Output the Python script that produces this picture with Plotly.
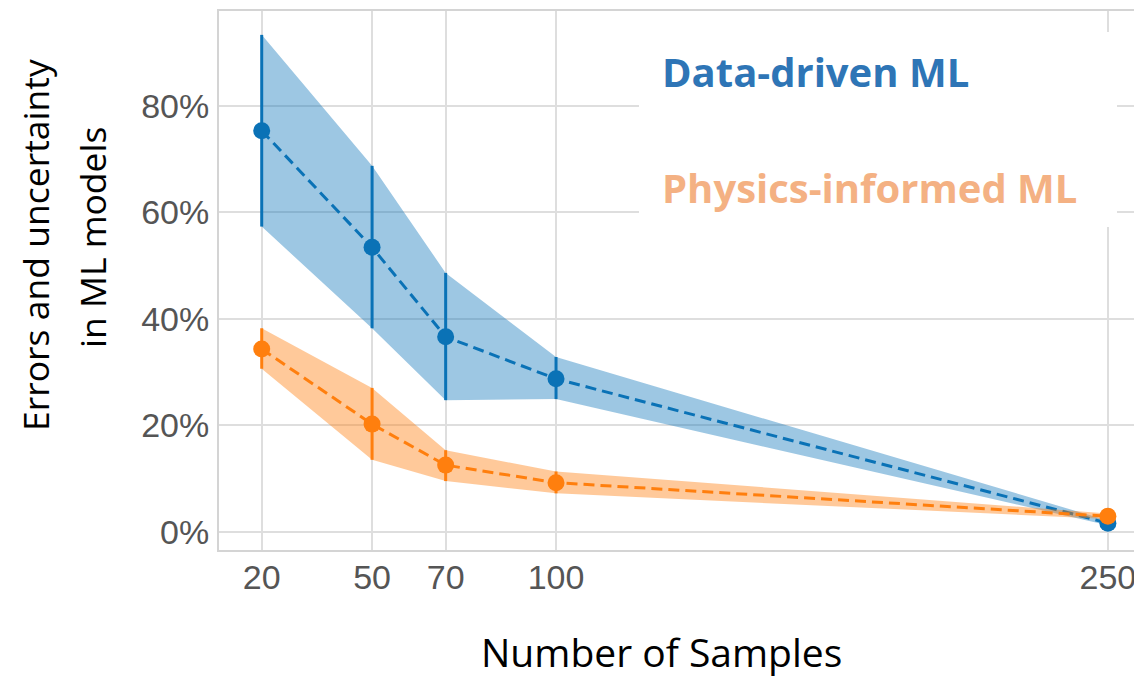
import plotly.graph_objects as go

samples = [20, 50, 70, 100, 250]

dd_mean = [75.3, 53.4, 36.6, 28.7, 1.6]
dd_upper = [93.3, 68.7, 48.6, 32.8, 2.1]
dd_lower = [57.3, 38.2, 24.7, 24.9, 1.2]

pi_mean = [34.3, 20.2, 12.5, 9.2, 2.9]
pi_upper = [38.2, 27.0, 15.3, 11.3, 3.4]
pi_lower = [30.6, 13.5, 9.5, 7.2, 2.4]

y_ticks = [0, 20, 40, 60, 80]

BLUE = "#0a72b6"
ORANGE = "#ff7f0e"
BLUE_FILL = "rgba(10,115,185,0.4)"
ORANGE_FILL = "rgba(255,127,14,0.42)"

fig = go.Figure()


def add_series(mean, upper, lower, color, fill):
    fig.add_trace(go.Scatter(x=samples, y=upper, mode="lines",
                             line=dict(width=0, color=fill), hoverinfo="skip",
                             showlegend=False))
    fig.add_trace(go.Scatter(x=samples, y=lower, mode="lines",
                             line=dict(width=0, color=fill), fill="tonexty",
                             fillcolor=fill, hoverinfo="skip", showlegend=False))
    fig.add_trace(go.Scatter(
        x=samples, y=mean, mode="lines+markers",
        line=dict(color=color, width=3, dash="11px,6px"),
        marker=dict(color=color, size=17),
        error_y=dict(type="data", symmetric=False,
                     array=[u - m for u, m in zip(upper, mean)],
                     arrayminus=[m - l for m, l in zip(mean, lower)],
                     color=color, thickness=3, width=0),
        showlegend=False))


add_series(dd_mean, dd_upper, dd_lower, BLUE, BLUE_FILL)
add_series(pi_mean, pi_upper, pi_lower, ORANGE, ORANGE_FILL)

L, R, T, B = 219, 0, 11, 128
W, H = 1134, 678
pw, ph = W - L - R, H - T - B


def px_x(p):
    return (p - L) / pw


def px_y(p):
    return (H - B - p) / ph


fig.add_shape(type="rect", xref="paper", yref="paper",
              x0=px_x(639), x1=px_x(1117), y0=px_y(227), y1=px_y(32),
              fillcolor="white", line=dict(width=0), layer="above")

annos = [
    dict(text="Data-driven ML", x=px_x(660), y=px_y(72), xanchor="left", yanchor="middle",
         font=dict(family="Open Sans", size=40, color="#2e75b6", weight="bold")),
    dict(text="Physics-informed ML", x=px_x(660), y=px_y(187), xanchor="left", yanchor="middle",
         font=dict(family="Open Sans", size=40, color="#f4b183", weight="bold")),
    dict(text="Number of Samples", x=px_x(661), y=px_y(651), xanchor="center", yanchor="middle",
         font=dict(family="Open Sans", size=39, color="black")),
    dict(text="Errors and uncertainty", x=px_x(35), y=px_y(245), xanchor="center", yanchor="middle",
         textangle=-90, font=dict(family="Open Sans", size=35.5, color="black")),
    dict(text="in ML models", x=px_x(92), y=px_y(238), xanchor="center", yanchor="middle",
         textangle=-90, font=dict(family="Open Sans", size=35.5, color="black")),
]
for a in annos:
    fig.add_annotation(xref="paper", yref="paper", showarrow=False, **a)

fig.update_layout(
    width=W, height=H,
    margin=dict(l=L, r=R, t=T, b=B, pad=0),
    paper_bgcolor="white", plot_bgcolor="white",
    showlegend=False,
    xaxis=dict(range=[8.39, 257.1], tickmode="array", tickvals=samples,
               ticktext=[str(s) for s in samples],
               showgrid=True, gridcolor="#dedede", gridwidth=2,
               showline=True, linecolor="#d4d4d4", linewidth=2, mirror=True,
               zeroline=False, ticks="", ticklen=0,
               ticklabeloverflow="allow", ticklabelstandoff=-4,
               tickfont=dict(family="Liberation Sans", size=34, color="#555555"),
               automargin=False),
    yaxis=dict(range=[-3.44, 97.78], tickmode="array", tickvals=y_ticks,
               ticktext=[f"{v}%" for v in y_ticks],
               showgrid=True, gridcolor="#dedede", gridwidth=2,
               showline=True, linecolor="#d4d4d4", linewidth=2,
               zeroline=False, ticks="outside", ticklen=1, tickcolor="rgba(0,0,0,0)",
               tickfont=dict(family="Liberation Sans", size=34, color="#555555"),
               automargin=False),
)

fig.write_html("out.html", config={"displayModeBar": False},
               post_script="document.body.style.margin='0';document.body.style.overflow='hidden';")
